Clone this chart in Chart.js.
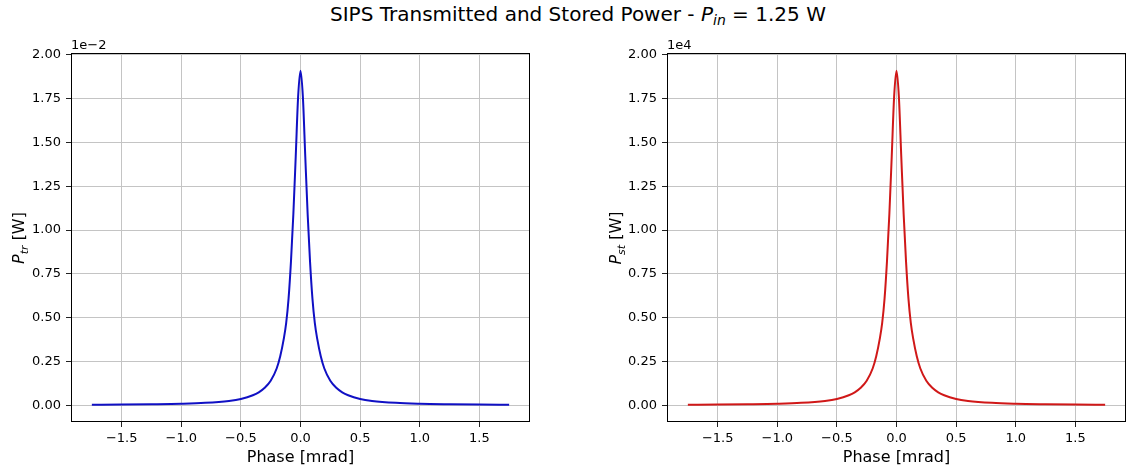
<!DOCTYPE html>
<html lang="en">
<head>
<meta charset="UTF-8">
<title>SIPS Transmitted and Stored Power</title>
<script src="https://cdn.jsdelivr.net/npm/chart.js"></script>
<style>
  body { margin: 0; background: #fff; width: 1127px; height: 470px; position: relative; overflow: hidden; font-family: "DejaVu Sans", sans-serif; }
  #titulo { position: absolute; left: 330px; top: 2px; font-size: 20px; line-height: 24px; white-space: nowrap; color: #000; }
  #titulo sub { font-size: 14px; font-style: italic; vertical-align: -4px; line-height: 0; }
  .painel { position: absolute; top: 0; }
</style>
</head>
<body>
  <div id="titulo">SIPS Transmitted and Stored Power - <i>P</i><sub>in</sub> = 1.25 W</div>
  <canvas id="graficoTr" class="painel" width="563" height="470" style="left:0;width:563px;height:470px"></canvas>
  <canvas id="graficoSt" class="painel" width="564" height="470" style="left:563px;width:564px;height:470px"></canvas>
<script>
  // fase [mrad]
  const fase = [-1.75, -1.5, -1.25, -1.0, -0.8, -0.6, -0.5, -0.4, -0.35, -0.3, -0.25, -0.2, -0.17, -0.14, -0.12, -0.1, -0.08, -0.06, -0.04, -0.02,
                0, 0.02, 0.04, 0.06, 0.08, 0.1, 0.12, 0.14, 0.17, 0.2, 0.25, 0.3, 0.35, 0.4, 0.5, 0.6, 0.8, 1.0, 1.25, 1.5, 1.75];
  // potencia transmitida (x 1e-2 W)
  const potTransmitida = [0.003, 0.004, 0.006, 0.009, 0.014, 0.025, 0.036, 0.057, 0.074, 0.10, 0.14, 0.21, 0.28, 0.38, 0.47, 0.61, 0.82, 1.09, 1.42, 1.76,
                          1.91, 1.76, 1.42, 1.09, 0.82, 0.61, 0.47, 0.38, 0.28, 0.21, 0.14, 0.10, 0.074, 0.057, 0.036, 0.025, 0.014, 0.009, 0.006, 0.004, 0.003];
  // potencia armazenada (x 1e4 W)
  const potArmazenada = [0.003, 0.004, 0.006, 0.009, 0.014, 0.025, 0.036, 0.057, 0.074, 0.10, 0.14, 0.21, 0.28, 0.38, 0.47, 0.61, 0.82, 1.09, 1.42, 1.76,
                         1.91, 1.76, 1.42, 1.09, 0.82, 0.61, 0.47, 0.38, 0.28, 0.21, 0.14, 0.10, 0.074, 0.057, 0.036, 0.025, 0.014, 0.009, 0.006, 0.004, 0.003];
  const ticksFase = [-1.5, -1.0, -0.5, 0.0, 0.5, 1.0, 1.5];
  const ticksPotencia = [0, 0.25, 0.5, 0.75, 1.0, 1.25, 1.5, 1.75, 2.0];

  const FONTE = '"DejaVu Sans", sans-serif';

  // caixa preta em volta da area do grafico, rotulo do eixo y e texto do expoente
  const moldura = {
    id: 'moldura',
    afterDraw(chart, args, opts) {
      const ctx = chart.ctx;
      const a = chart.chartArea;
      ctx.save();
      ctx.strokeStyle = '#000';
      ctx.lineWidth = 1;
      ctx.strokeRect(Math.round(a.left) + 0.5, Math.round(a.top) - 0.5, Math.round(a.right - a.left) - 1, Math.round(a.bottom - a.top));

      // expoente no topo do eixo y
      ctx.fillStyle = '#000';
      ctx.font = '13px ' + FONTE;
      ctx.textAlign = 'left';
      ctx.textBaseline = 'middle';
      ctx.fillText(opts.expoente, a.left, a.top - 8);

      // rotulo do eixo y com subscrito
      const partes = [
        { t: 'P', f: 'italic 16px ' + FONTE, d: 0 },
        { t: opts.sub, f: 'italic 11px ' + FONTE, d: 3.5 },
        { t: ' [W]', f: '16px ' + FONTE, d: 0 }
      ];
      let total = 0;
      partes.forEach(p => { ctx.font = p.f; total += ctx.measureText(p.t).width; });
      ctx.translate(opts.rotuloX, (a.top + a.bottom) / 2);
      ctx.rotate(-Math.PI / 2);
      ctx.textBaseline = 'alphabetic';
      let x = -total / 2;
      partes.forEach(p => {
        ctx.font = p.f;
        ctx.fillText(p.t, x, 6 + p.d);
        x += ctx.measureText(p.t).width;
      });
      ctx.restore();
    }
  };

  function criarGrafico(id, valores, cor, expoente, sub, larguraY, dirPad, rotuloX) {
    const ctx = document.getElementById(id).getContext('2d');
    return new Chart(ctx, {
      type: 'line',
      data: {
        datasets: [{
          data: fase.map((f, i) => ({ x: f, y: valores[i] })),
          borderColor: cor,
          backgroundColor: cor,
          borderWidth: 2,
          pointRadius: 0,
          cubicInterpolationMode: 'monotone',
          fill: false
        }]
      },
      options: {
        responsive: false,
        animation: false,
        devicePixelRatio: 1,
        layout: { padding: { top: 54, right: dirPad, bottom: 0, left: 0 } },
        plugins: {
          legend: { display: false },
          tooltip: { enabled: false },
          moldura: { expoente: expoente, sub: sub, rotuloX: rotuloX }
        },
        scales: {
          x: {
            type: 'linear',
            min: -1.925,
            max: 1.925,
            afterBuildTicks: s => { s.ticks = ticksFase.map(v => ({ value: v })); },
            afterFit: s => { s.height = 48; },
            grid: { color: '#c4c4c4', lineWidth: 1, tickColor: '#222', tickLength: 5 },
            border: { display: false },
            ticks: {
              color: '#000',
              padding: 4,
              maxRotation: 0,
              font: { family: FONTE, size: 13 },
              callback: v => v.toFixed(1).replace('-', '\u2212')
            },
            title: {
              display: true,
              text: 'Phase [mrad]',
              color: '#000',
              font: { family: FONTE, size: 16 },
              padding: { top: 0, bottom: 3 }
            }
          },
          y: {
            type: 'linear',
            min: -0.0955,
            max: 2.005,
            afterBuildTicks: s => { s.ticks = ticksPotencia.map(v => ({ value: v })); },
            afterFit: s => { s.width = larguraY; },
            grid: { color: '#c4c4c4', lineWidth: 1, tickColor: '#222', tickLength: 5 },
            border: { display: false },
            ticks: {
              color: '#000',
              padding: 5,
              font: { family: FONTE, size: 13 },
              callback: v => v.toFixed(2)
            }
          }
        }
      },
      plugins: [moldura]
    });
  }

  criarGrafico('graficoTr', potTransmitida, '#1010c4', '1e\u22122', 'tr', 71, 33, 18);
  criarGrafico('graficoSt', potArmazenada, '#d01818', '1e4', 'st', 104, 1, 52);
</script>
</body>
</html>
